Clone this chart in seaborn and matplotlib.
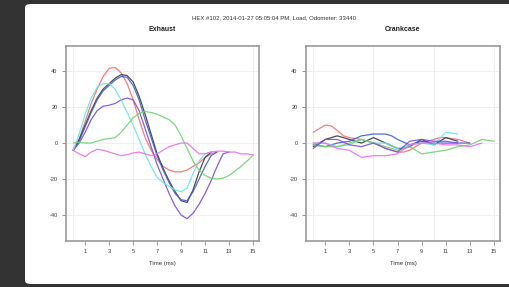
import numpy as np
import pandas as pd
import matplotlib
matplotlib.use("Agg")
import matplotlib.pyplot as plt
from matplotlib.patches import FancyBboxPatch
import seaborn as sns

# ---------------- data ----------------
title_text = "HEX #102, 2014-01-27 05:05:04 PM, Load, Odometer: 33440"
panel_titles = ["Exhaust", "Crankcase"]
x_label = "Time (ms)"
x_ticks = [1, 3, 5, 7, 9, 11, 13, 15]
y_ticks = [40, 20, 0, -20, -40]
series_names = ["red", "black", "blue", "violet", "cyan", "green", "magenta"]
series_colors = ["#f07070", "#3a3a3a", "#4060c8", "#7a4fd8", "#6fe3ea", "#72d072", "#e870e8"]

# Exhaust (time step 0.5 ms starting at 0)
exh_red = [-4, 2, 12, 22, 30, 37, 41.5, 42, 39, 33, 24, 13, 3, -4, -9, -13, -15, -16, -16, -15, -13, -11, -8, -6, -5]
exh_black = [-4, 2, 10, 18, 25, 30, 33, 36, 38, 37.5, 34, 26, 16, 5, -6, -14, -21, -27, -32, -33, -26, -16, -8, -5]
exh_blue = [-4, 1, 9, 17, 24, 29, 32, 35, 37, 36.5, 32, 24, 13, 3, -7, -15, -22, -28, -31.5, -32, -27, -20, -13, -7, -5]
exh_violet = [-4, 0, 6, 13, 18, 20.5, 21, 22, 24, 25, 24, 18, 8, -2, -12, -20, -28, -35, -40, -42, -39, -34, -28, -21, -13, -6, -5]
exh_cyan = [-4, 5, 16, 25, 31, 33, 33, 30, 24, 17, 10, 2, -6, -13, -19, -22, -24, -26, -27, -25, -17, -10, -6, -5]
exh_green = [0, 0.5, 0, 0, 1, 2, 2.5, 3, 6, 10, 14, 16.5, 17.5, 17, 16, 14.5, 13, 10, 4, -3, -10, -15, -18, -19.5, -20, -19.5, -18, -15.5, -13, -10, -7]
exh_magenta = [-4, -6, -7.5, -5, -3.5, -4, -5, -6, -7, -6.5, -5.5, -5, -6, -7, -6, -4, -2, -1, 0, 0, -3, -6, -6, -5, -4.5, -4.5, -5, -5, -6, -6, -6.5]

# Crankcase (time step 0.5 ms starting at 0)
crk_red = [6, 8, 10, 9.5, 7, 4, 3, 2.5, 2, 1, 0, -1, -3, -4, -5, -5, -4, -2, 0, 1, 2, 3, 3, 2.5, 2, 1, 0]
crk_black = [-2, 0, 2, 3, 4, 3, 2, 1, 0, 1.5, 3, 1.5, 0, -1.5, -3, -3, -2, 0, 2, 0.5, -1, 1, 3, 2, 1]
crk_blue = [-1, -1.5, -2, -1, 0, 0.5, 1, 2.5, 4, 4.5, 5, 5, 5, 4, 2, 0.5, -1, 0, 1, 0.5, 0, 0, 0, 0, 0, 0, 0]
crk_cyan = [0, 0, 0, -1, -2, -1.5, -1, 0.5, 2, 1, 0, 0, 0, -1.5, -3, -2, -1, -0.5, 0, -0.5, -1, 2.5, 6, 5.5, 5]
crk_green = [-1, -1.5, -2, -2, -2, -1, 0, 1, 2, 1, 0, -1, -2, -3, -4, -3, -2, -4, -6, -5.5, -5, -4.5, -4, -3, -2, -1.5, -1, 0.5, 2, 1.5, 1]
crk_magenta = [0, 0, 0, -1.5, -3, -3.5, -4, -6, -8, -7.5, -7, -7, -7, -6.5, -6, -3.5, -1, -0.5, 0, 0, 0, -0.5, -1, -1, -1, -1.5, -2, -1, 0]
crk_violet = [-3, -0.5, 2, 2, 2, 0.5, -1, -1.5, -2, -1, 0, -1.5, -3, -4, -5, -2, 1, 1.5, 2, 1.5, 1, 1, 1, 0.5, 0]

exhaust = [exh_red, exh_black, exh_blue, exh_violet, exh_cyan, exh_green, exh_magenta]
crankcase = [crk_red, crk_black, crk_blue, crk_cyan, crk_green, crk_magenta, crk_violet]
crank_names = ["red", "black", "blue", "cyan", "green", "magenta", "violet"]
STEP = 0.5


def to_frame(series_list, names):
    rows = []
    for name, vals in zip(names, series_list):
        for i, v in enumerate(vals):
            rows.append({"time": i * STEP, "value": v, "series": name})
    return pd.DataFrame(rows)


df_exh = to_frame(exhaust, series_names)
df_crk = to_frame(crankcase, crank_names)
palette = dict(zip(series_names, series_colors))

# ---------------- figure ----------------
sns.set_theme(style="white")
plt.rcParams["font.family"] = ["Liberation Sans", "DejaVu Sans"]

W, H = 510, 287
fig = plt.figure(figsize=(W / 100, H / 100), dpi=100)
fig.patch.set_facecolor("#333333")

card = FancyBboxPatch((25 / W, 3 / H), 0.99, 1 - 7 / H,
                      boxstyle="round,pad=0,rounding_size=0.012",
                      transform=fig.transFigure, facecolor="white",
                      edgecolor="none", zorder=-10)
fig.patches.append(card)

top = 1 - 46 / H
bottom = 1 - 241 / H
ax1 = fig.add_axes([66 / W, bottom, 193 / W, top - bottom])
ax2 = fig.add_axes([306 / W, bottom, 194 / W, top - bottom])

for ax, df, title in [(ax1, df_exh, panel_titles[0]), (ax2, df_crk, panel_titles[1])]:
    ax.set_zorder(5)
    sns.lineplot(data=df, x="time", y="value", hue="series", palette=palette,
                 ax=ax, linewidth=0.9, legend=False, sort=False, estimator=None,
                 alpha=0.9)
    ax.set_xlim(-0.6, 15.5)
    ax.set_ylim(-54.4, 53.9)
    ax.set_xticks(x_ticks)
    ax.set_xticklabels([str(t) for t in x_ticks])
    ax.set_yticks(y_ticks)
    ax.set_yticklabels([str(t) for t in y_ticks])
    for gx in [0, 5, 10, 15]:
        ax.axvline(gx, color="#ededed", lw=0.6, zorder=0)
    for gy in y_ticks:
        ax.axhline(gy, color="#ededed", lw=0.6, zorder=0)
    ax.tick_params(axis="both", which="both", direction="out", length=3,
                   width=0.6, color="#888888", labelsize=4, labelcolor="#333333",
                   pad=3, bottom=True, left=True)
    for s in ax.spines.values():
        s.set_color("#9a9a9a")
        s.set_linewidth(1.2)
    ax.set_xlabel(x_label, fontsize=4.3, color="#333333", labelpad=5)
    ax.set_ylabel("")
    ax.set_title(title, fontsize=5, fontweight="bold", color="#222222", pad=11)
    ax.set_facecolor("white")

t = fig.text(274 / W, 1 - 18 / H, title_text, ha="center", va="center",
             fontsize=4.3, color="#333333")
t.set_zorder(6)

fig.savefig("out.png", dpi=100, facecolor=fig.get_facecolor())
